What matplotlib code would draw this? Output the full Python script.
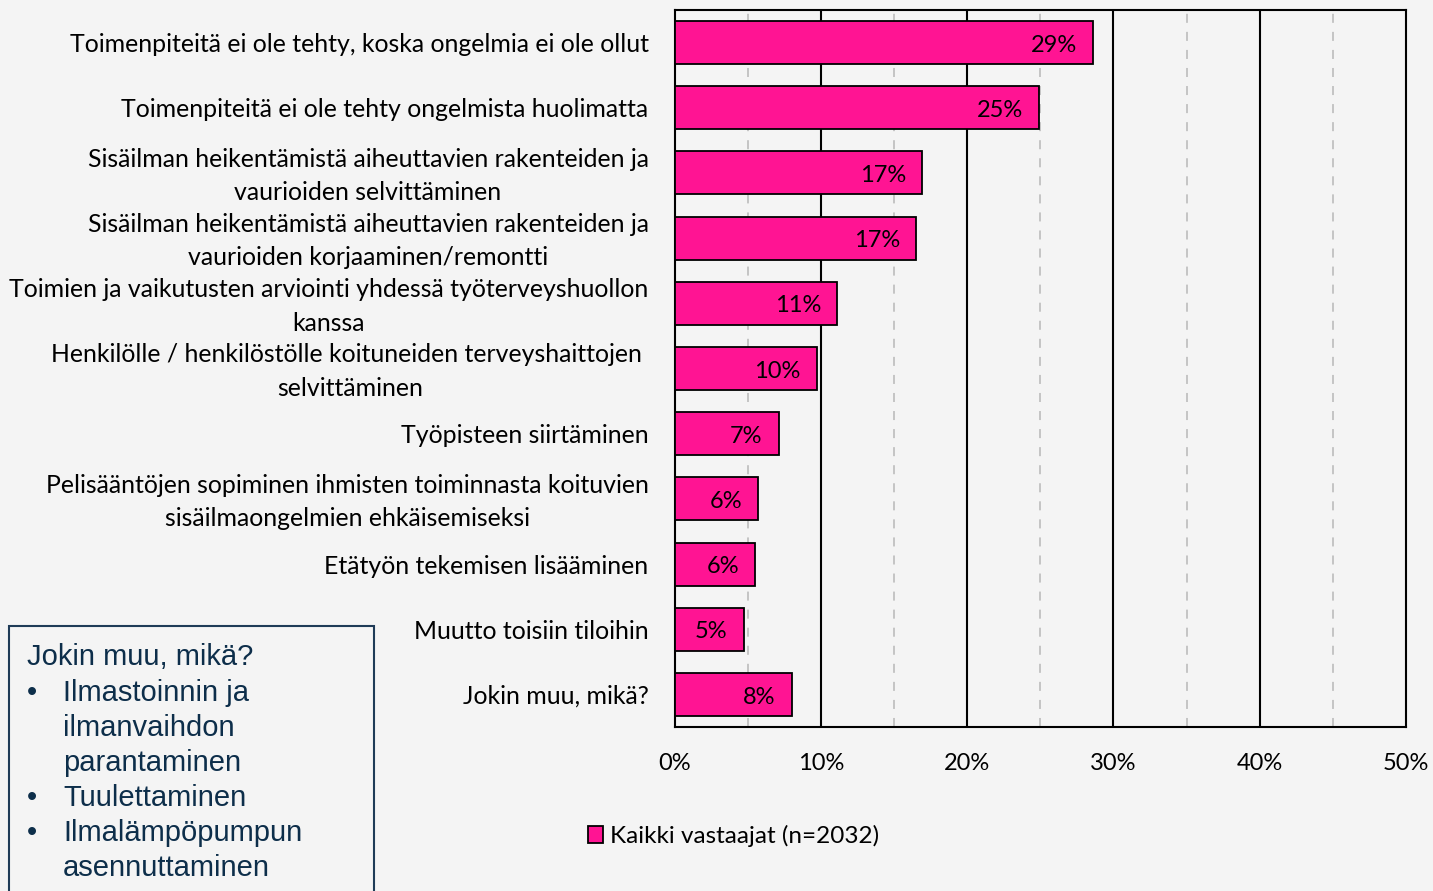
import matplotlib.pyplot as plt
import matplotlib.patches as mpatches
from matplotlib.transforms import ScaledTranslation

categories = [
    'Toimenpiteitä ei ole tehty, koska ongelmia ei ole ollut',
    'Toimenpiteitä ei ole tehty ongelmista huolimatta',
    'Sisäilman heikentämistä aiheuttavien rakenteiden ja\nvaurioiden selvittäminen',
    'Sisäilman heikentämistä aiheuttavien rakenteiden ja\nvaurioiden korjaaminen/remontti',
    'Toimien ja vaikutusten arviointi yhdessä työterveyshuollon\nkanssa',
    'Henkilölle / henkilöstölle koituneiden terveyshaittojen \nselvittäminen',
    'Työpisteen siirtäminen',
    'Pelisääntöjen sopiminen ihmisten toiminnasta koituvien\nsisäilmaongelmien ehkäisemiseksi',
    'Etätyön tekemisen lisääminen',
    'Muutto toisiin tiloihin',
    'Jokin muu, mikä?',
]
values = [28.6, 24.9, 16.9, 16.5, 11.1, 9.7, 7.1, 5.7, 5.5, 4.7, 8.0]
value_labels = ['29%', '25%', '17%', '17%', '11%', '10%', '7%', '6%', '6%', '5%', '8%']
ticks = [0, 10, 20, 30, 40, 50]
minor_ticks = [5, 15, 25, 35, 45]
series_name = 'Kaikki vastaajat (n=2032)'
note_title = 'Jokin muu, mikä?'
note_items = ['Ilmastoinnin ja\nilmanvaihdon\nparantaminen', 'Tuulettaminen',
              'Ilmalämpöpumpun\nasennuttaminen']

bg = '#f4f4f4'
pink = '#ff1493'
plt.rcParams['font.family'] = ['Lato', 'DejaVu Sans']

fig = plt.figure(figsize=(14.33, 8.91), dpi=100, facecolor=bg)
ax = fig.add_axes([0.471, 0.184, 0.510, 0.805], facecolor=bg)

y = list(range(len(categories)))
ax.barh(y, values, height=0.66, color=pink, edgecolor='black', linewidth=1.3, zorder=3)
for yi, v, lab in zip(y, values, value_labels):
    ax.text(v - 1.1, yi + 0.04, lab, ha='right', va='center', fontsize=17, zorder=4)

ax.set_xlim(0, 50)
ax.set_ylim(len(categories) - 0.5, -0.5)
ax.set_xticks(ticks)
ax.set_xticklabels([f'{t}%' for t in ticks], fontsize=17)
ax.set_yticks(y)
ax.set_yticklabels(categories, fontsize=17.9, linespacing=1.55, multialignment='center')
ax.tick_params(length=0, pad=19)
ax.tick_params(axis='x', pad=19)
# two-line labels sit a little higher in the original
for lbl in ax.get_yticklabels():
    if '\n' in lbl.get_text():
        lbl.set_transform(lbl.get_transform() + ScaledTranslation(0, 0.04, fig.dpi_scale_trans))
for t in ticks[1:-1]:
    ax.axvline(t, color='black', linewidth=1.5, zorder=1)
for t in minor_ticks:
    ax.axvline(t, color='#c0c0c0', linewidth=1.3, linestyle=(0, (5, 5)), zorder=1)
for s in ax.spines.values():
    s.set_linewidth(1.5)

handle = mpatches.Patch(facecolor=pink, edgecolor='black', linewidth=1.3)
fig.legend([handle], [series_name], loc='center', bbox_to_anchor=(0.512, 0.062),
           frameon=False, fontsize=17.5, handlelength=0.6, handleheight=0.7,
           handletextpad=0.3)

# note box
box = mpatches.Rectangle((0.006, -0.05), 0.255, 0.347, transform=fig.transFigure,
                         facecolor='none', edgecolor='#1f3b57', linewidth=1.5)
fig.add_artist(box)
navy = '#0d2e4a'
fig.text(0.019, 0.263, note_title, fontsize=21, color=navy, va='center',
         family='Liberation Sans')
lines_y = [0.222, 0.183, 0.1435, 0.104, 0.065, 0.026]
row = 0
for item in note_items:
    parts = item.split('\n')
    fig.text(0.019, lines_y[row], '•', fontsize=21, color=navy, va='center',
             family='Liberation Sans')
    for p in parts:
        fig.text(0.044, lines_y[row], p, fontsize=21, color=navy, va='center',
                 family='Liberation Sans')
        row += 1

fig.savefig('out.png', dpi=100, facecolor=bg)
